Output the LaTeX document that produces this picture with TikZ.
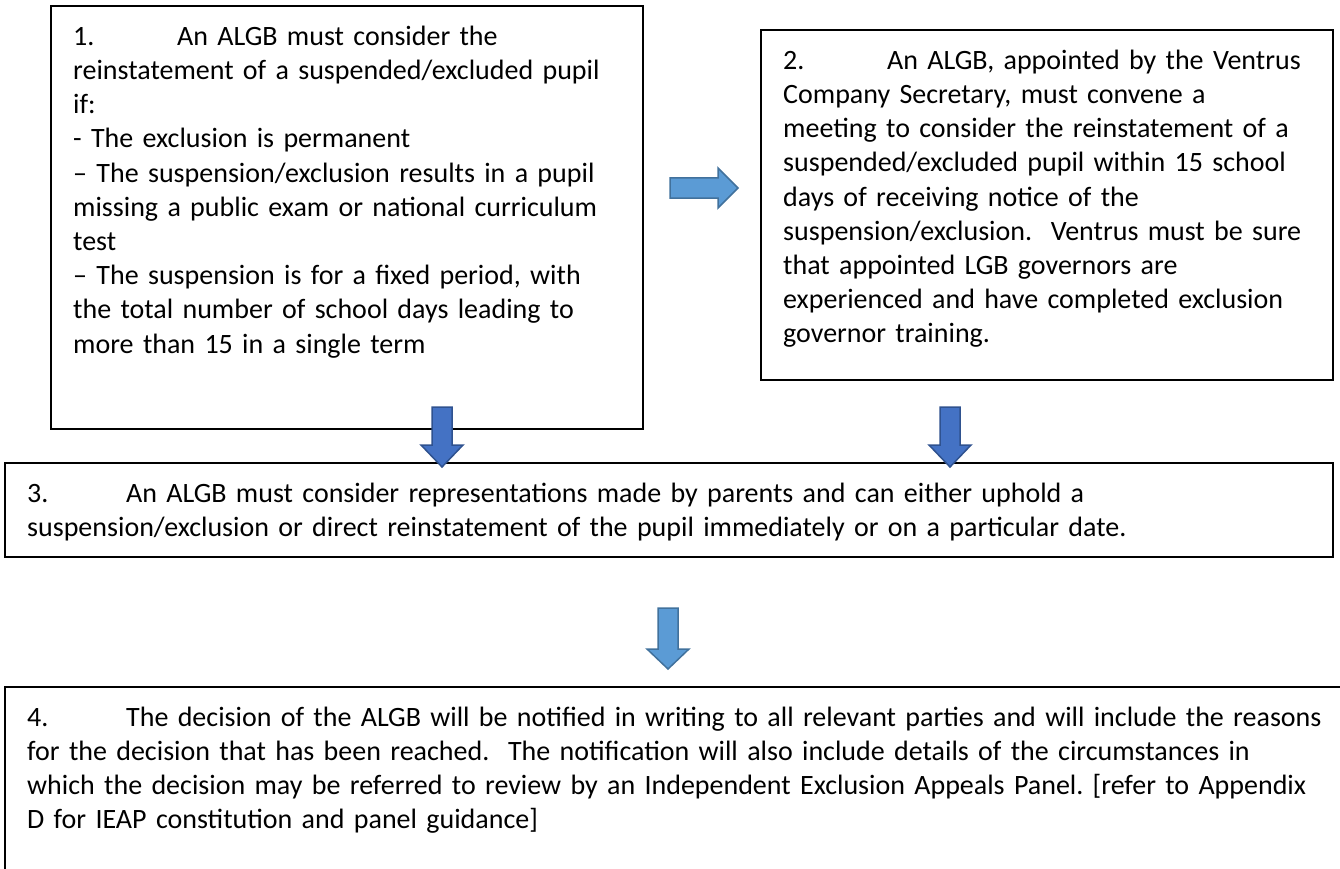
\documentclass[tikz,border=0pt]{standalone}
\usepackage{fontspec}
\setmainfont{Carlito}
\frenchspacing
\definecolor{arrlight}{HTML}{5B9BD5}
\definecolor{arrlightline}{HTML}{41719C}
\definecolor{arrdark}{HTML}{4472C4}
\definecolor{arrdarkline}{HTML}{2F528F}
\newcommand\numlbl[2][104pt]{\makebox[#1][l]{#2}}
\begin{document}
\begin{tikzpicture}[x=1pt,y=-1pt,
  box/.style={draw=black,line width=1.6pt},
  txt/.style={anchor=north west,inner sep=0pt,align=left,text width=2000pt,
    font=\fontsize{28}{34.2}\selectfont\frenchspacing},
  larrow/.style={fill=arrlight,draw=arrlightline,line width=1.5pt,line join=miter},
  darrow/.style={fill=arrdark,draw=arrdarkline,line width=1.5pt,line join=miter}]
\useasboundingbox (0,0) rectangle (1340,869);
\clip (0,0) rectangle (1340,869);
% boxes
\draw[box] (51,6) rectangle (643,429);
\draw[box] (761,30) rectangle (1333,380);
\draw[box] (5,463) rectangle (1333,557);
\draw[box] (5,687) rectangle (1360,900);
% texts (north = baseline - 0.7*34.2)
\node[txt] (t1) at (73,21.1) {\strut\numlbl{1.}An ALGB must consider the\\
reinstatement of a suspended/excluded pupil\\
if:\\
- The exclusion is permanent\\
– The suspension/exclusion results in a pupil\\
missing a public exam or national curriculum\\
test\\
– The suspension is for a fixed period, with\\
the total number of school days leading to\\
more than 15 in a single term};
\node[txt] (t2) at (783,45.1) {\strut\numlbl{2.}An ALGB, appointed by the Ventrus\\
Company Secretary, must convene a\\
meeting to consider the reinstatement of a\\
suspended/excluded pupil within 15 school\\
days of receiving notice of the\\
suspension/exclusion.\ \ Ventrus must be sure\\
that appointed LGB governors are\\
experienced and have completed exclusion\\
governor training.};
\node[txt] (t3) at (27,478.1) {\strut\numlbl[99pt]{3.}An ALGB must consider representations made by parents and can either uphold a\\
suspension/exclusion or direct reinstatement of the pupil immediately or on a particular date.};
\node[txt] (t4) at (27,702.1) {\strut\numlbl[99pt]{4.}The decision of the ALGB will be notified in writing to all relevant parties and will include the reasons\\
for the decision that has been reached.\ \ The notification will also include details of the circumstances in\\
which the decision may be referred to review by an Independent Exclusion Appeals Panel. [refer to Appendix\\
D for IEAP constitution and panel guidance]};
% block arrows
\draw[larrow] (670,178) -- (718,178) -- (718,168) -- (738,188) -- (718,208) -- (718,198) -- (670,198) -- cycle;
\draw[darrow] (432,407) -- (452,407) -- (452,445) -- (463,445) -- (442,467) -- (421,445) -- (432,445) -- cycle;
\draw[darrow] (940,407) -- (960,407) -- (960,445) -- (971,445) -- (950,467) -- (929,445) -- (940,445) -- cycle;
\draw[larrow] (658,608) -- (678,608) -- (678,649) -- (689,649) -- (668,669) -- (647,649) -- (658,649) -- cycle;
\end{tikzpicture}
\end{document}
